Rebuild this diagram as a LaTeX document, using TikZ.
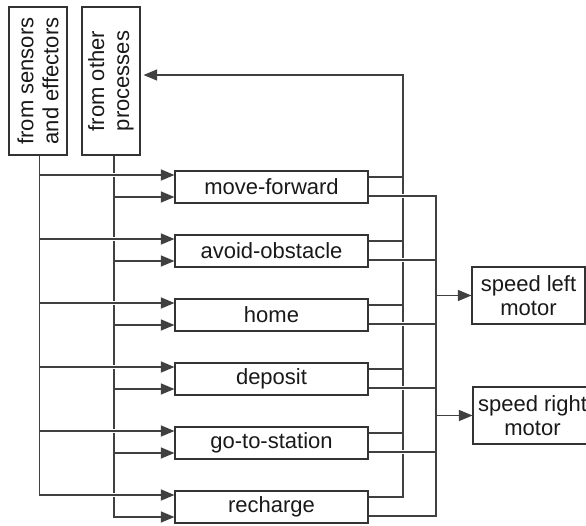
\documentclass[tikz,border=0pt]{standalone}
\usepackage{fontspec}
\setmainfont{Liberation Sans}
\usetikzlibrary{arrows.meta,calc}
\begin{document}
\begin{tikzpicture}[x=1pt,y=-1pt,
  box/.style={draw=black!80, line width=1.1pt, rectangle, inner sep=0pt,
    text=black!90, font=\fontsize{22}{25}\selectfont, align=center},
  beh/.style={box, minimum width=193pt, minimum height=32pt},
  mot/.style={box, font=\fontsize{22}{23.5}\selectfont, minimum height=57pt},
  wire/.style={draw=black!75, line width=1.2pt},
  arr/.style={wire, -{Triangle[length=13.5pt,width=11pt]}},
  halo/.style={preaction={draw=white, line width=4.5pt, -, shorten <=2pt, shorten >=#1}},
  halo/.default=2pt]
\path[use as bounding box, clip] (0,0) rectangle (586,525);

% source boxes
\node[box, rotate=90, minimum width=148pt, minimum height=58pt] (sens) at (38,81) {from sensors\\and effectors};
\node[box, rotate=90, minimum width=148pt, minimum height=58pt] (oth) at (111,81) {from other\\processes};

% behaviour boxes
\node[beh] (mf) at (271.5,187) {move-forward};
\node[beh] (ao) at (271.5,251) {avoid-obstacle};
\node[beh] (ho) at (271.5,315) {home};
\node[beh] (de) at (271.5,379) {deposit};
\node[beh] (gs) at (271.5,443) {go-to-station};
\node[beh] (rc) at (271.5,507) {recharge};

% motor boxes
\node[mot, minimum width=113pt] (slm) at (528.5,295.5) {speed left\\motor};
\node[mot, minimum width=119pt] (srm) at (532.5,415.5) {speed right\\motor};

\foreach \n in {mf,ao,ho,de,gs,rc}{
  \coordinate (\n i1) at ([yshift=12pt]\n.west);
  \coordinate (\n i2) at ([yshift=-10pt]\n.west);
  \coordinate (\n o1) at ([yshift=10pt]\n.east);
  \coordinate (\n o2) at ([yshift=-9pt]\n.east);
}
\coordinate (sb) at ([xshift=1.5pt]sens.west);
\coordinate (ob) at ([xshift=3pt]oth.west);
\coordinate (fbtop) at (403,75);
\coordinate (mb) at (436,75);

% inputs from other processes
\draw[arr] (ob) |- (rci2);
\foreach \n in {mf,ao,ho,de,gs}{
  \draw[arr] (ob |- \n i2) -- (\n i2);
}
% inputs from sensors
\draw[arr, halo=15pt] (sb) |- (rci1);
\foreach \n in {mf,ao,ho,de,gs}{
  \draw[arr, halo=15pt] (sb |- \n i1) -- (\n i1);
}

% feedback to other processes
\draw[arr, shorten >=3pt] (rco1) -| (fbtop) -- (oth.south |- fbtop);
\foreach \n in {mf,ao,ho,de,gs}{
  \draw[wire] (\n o1) -- (fbtop |- \n o1);
}

% outputs to motors
\draw[wire, halo] (mfo2) -| (mb |- rco2) -- (rco2);
\foreach \n in {ao,ho,de,gs}{
  \draw[wire, halo] (\n o2) -- (mb |- \n o2);
}
\draw[arr] (mb |- slm.west) -- (slm.west);
\draw[arr] (mb |- srm.west) -- (srm.west);
\end{tikzpicture}
\end{document}
